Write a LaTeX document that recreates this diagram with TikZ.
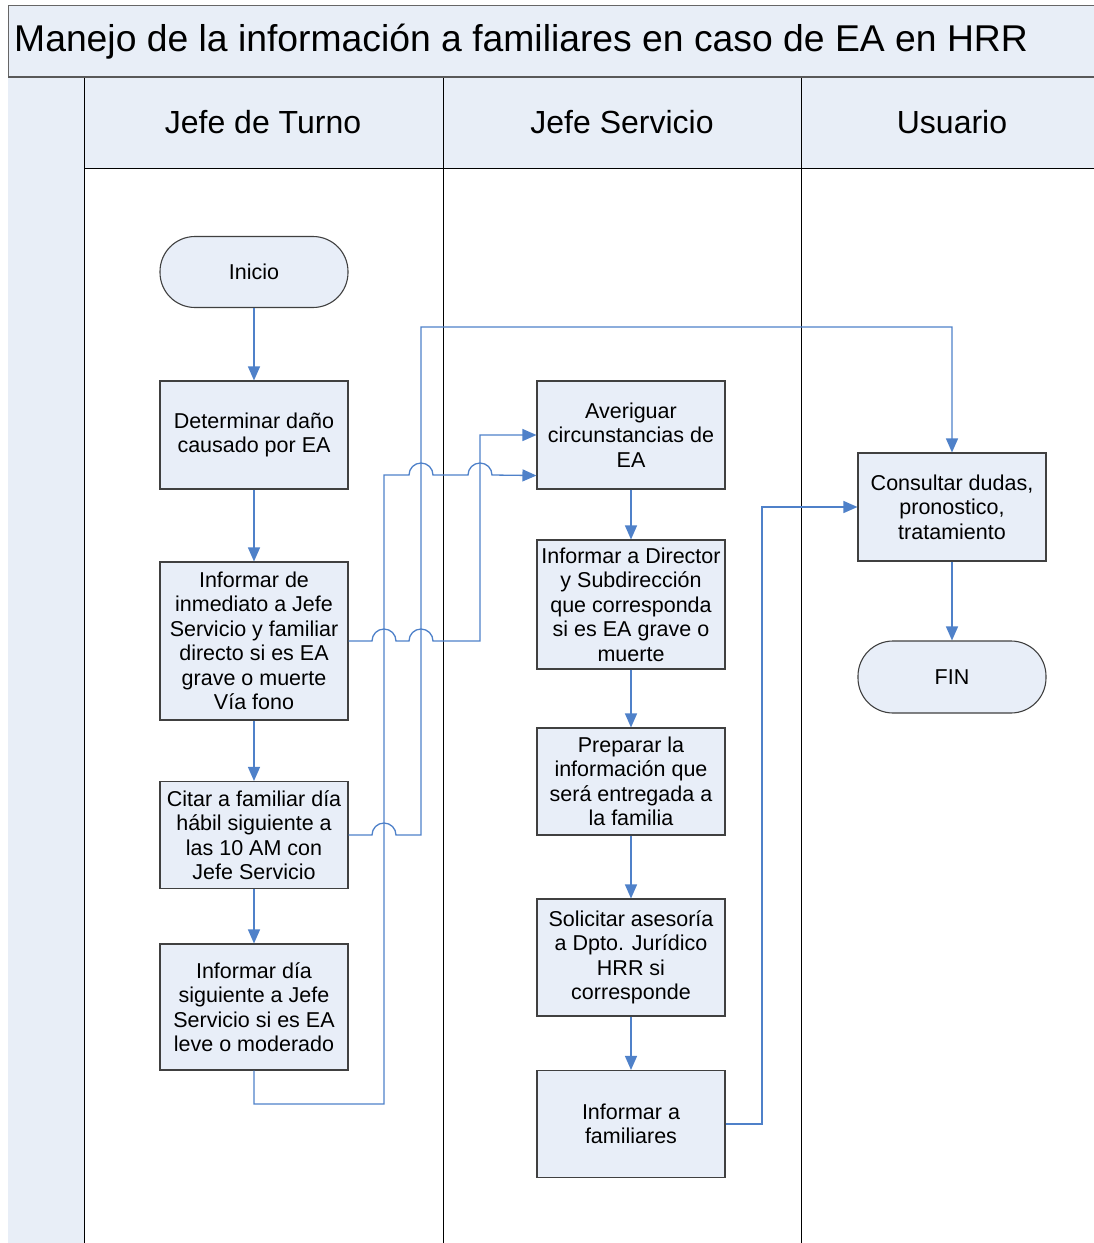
\documentclass[tikz,border=0pt]{standalone}
\usepackage{fontspec}
\setmainfont{Liberation Sans}
\usetikzlibrary{arrows.meta,calc}
\definecolor{boxfill}{HTML}{E8EEF8}
\definecolor{lanefill}{HTML}{E8EEF7}
\definecolor{conn}{HTML}{4F81C9}
\definecolor{boxline}{HTML}{404040}
\begin{document}
\begin{tikzpicture}[x=1pt,y=-1pt,
  proc/.style={draw=boxline, line width=1.1pt, fill=boxfill, minimum width=188pt, align=center, inner sep=2pt, font=\fontsize{21.5}{24.5}\selectfont},
  term/.style={proc, rounded corners=35pt},
  flow/.style={draw=conn, line width=1.3pt, -{Triangle[length=14pt,width=12pt]}},
  lane/.style={draw=black, line width=1pt},
  hdr/.style={font=\fontsize{32}{38}\selectfont, inner sep=0pt}]
\useasboundingbox (0,0) rectangle (1093,1243);
% title bar
\fill[lanefill] (8,5) rectangle (1100,77);
\draw[lane, draw=gray!80!black] (1100,5) -- (8,5) -- (8,1250);
\node[anchor=west, inner sep=0pt, font=\fontsize{37.3}{42}\selectfont] (title) at (14,42) {Manejo de la información a familiares en caso de EA en HRR};
% left column and header
\fill[lanefill] (8,78) rectangle (84,1250);
\fill[lanefill] (84,78) rectangle (1100,168);
\draw[lane] (84,168) -- (1100,168);
\draw[lane] (84,78) -- (84,1250);
\draw[lane] (443,78) -- (443,1250);
\draw[lane] (801,78) -- (801,1250);
\draw[line width=2.5pt, draw=gray!70!black] (8,77) -- (1100,77);
\node[hdr] (h1) at (263,122) {Jefe de Turno};
\node[hdr] (h2) at (622,122) {Jefe Servicio};
\node[hdr] (h3) at (952,122) {Usuario};
% nodes
\node[term, minimum height=71pt] (ini) at (254,272) {Inicio};
\node[proc, minimum height=108pt] (det) at (254,435) {Determinar daño\\causado por EA};
\node[proc, minimum height=158pt] (inm) at (254,641) {Informar de\\inmediato a Jefe\\Servicio y familiar\\directo si es EA\\grave o muerte\\Vía fono};
\node[proc, minimum height=107pt] (cit) at (254,835) {Citar a familiar día\\hábil siguiente a\\las 10 AM con\\Jefe Servicio};
\node[proc, minimum height=126pt] (ids) at (254,1007) {Informar día\\siguiente a Jefe\\Servicio si es EA\\leve o moderado};
\node[proc, minimum height=108pt] (ave) at (631,435) {Averiguar\\circunstancias de\\EA};
\node[proc, minimum height=129pt] (dir) at (631,604.5) {Informar a Director\\y Subdirección\\que corresponda\\si es EA grave o\\muerte};
\node[proc, minimum height=107pt] (pre) at (631,781.5) {Preparar la\\información que\\será entregada a\\la familia};
\node[proc, minimum height=117pt] (sol) at (631,957.5) {Solicitar asesoría\\a Dpto. Jurídico\\HRR si\\corresponde};
\node[proc, minimum height=107pt] (fam) at (631,1124) {Informar a\\familiares};
\node[proc, minimum height=108pt] (con) at (952,507) {Consultar dudas,\\pronostico,\\tratamiento};
\node[term, minimum height=72pt] (fin) at (952,677) {FIN};
% connectors
\draw[flow] (ini) -- (det);
\draw[flow] (det) -- (inm);
\draw[flow] (inm) -- (cit);
\draw[flow] (cit) -- (ids);
\draw[flow] (ave) -- (dir);
\draw[flow] (dir) -- (pre);
\draw[flow] (pre) -- (sol);
\draw[flow] (sol) -- (fam);
\draw[flow] (con) -- (fin);
\draw[flow] (inm.east) -- (372,641) arc[start angle=180,end angle=0,radius=12pt]
  -- (409,641) arc[start angle=180,end angle=0,radius=12pt]
  -- (480,641) -- (480,435) -- (ave.west);
\draw[flow] (ids.south) -- (254,1104) -- (384,1104) -- (384,475)
  -- (409,475) arc[start angle=180,end angle=0,radius=12pt]
  -- (468,475) arc[start angle=180,end angle=0,radius=12pt]
  -- ([yshift=14pt]ave.south west);
\draw[flow] (cit.east) -- (372,835) arc[start angle=180,end angle=0,radius=12pt]
  -- (421,835) -- (421,327) -- (952,327) -- (con.north);
\draw[flow] (fam.east) -- (762,1124) -- (762,507) -- (con.west);
\end{tikzpicture}
\end{document}
